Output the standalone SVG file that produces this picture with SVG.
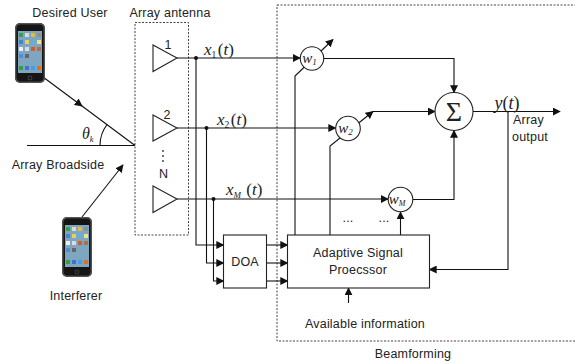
<svg xmlns="http://www.w3.org/2000/svg" width="575" height="364" viewBox="0 0 575 364">
<style>
.t{font-family:"Liberation Sans",Arial,sans-serif;font-size:12.5px;fill:#222;letter-spacing:0.2px}
.m{font-family:"Liberation Serif","Times New Roman",serif;font-style:italic;fill:#222}
.r{font-family:"Liberation Serif","Times New Roman",serif;fill:#222}
.ln{fill:none;stroke:#111;stroke-width:1.1}
.box{fill:#fff;stroke:#222;stroke-width:1.1}
.dash{fill:none;stroke:#444;stroke-width:1;stroke-dasharray:2,1.5}
</style>
<defs>
<marker id="ah" viewBox="0 0 10 10" refX="9" refY="5" markerWidth="8" markerHeight="8" markerUnits="userSpaceOnUse" orient="auto">
<path d="M0,0 L10,5 L0,10 z" fill="#111"/>
</marker>
<g id="phoneicon">
<rect x="0" y="0" width="30" height="60" rx="5" fill="#151515"/>
<rect x="0.8" y="0.8" width="28.4" height="58.4" rx="4.5" fill="none" stroke="#888" stroke-width="0.8"/>
<rect x="3" y="8" width="24" height="42" fill="#7ea6c0"/>
<g>
<rect x="4" y="10" width="4" height="4" fill="#3c9e3c"/><rect x="10" y="10" width="4" height="4" fill="#d9d9d9"/><rect x="16" y="10" width="4" height="4" fill="#e0c030"/><rect x="22" y="10" width="4" height="4" fill="#909090"/>
<rect x="4" y="17" width="4" height="4" fill="#4a80d0"/><rect x="10" y="17" width="4" height="4" fill="#e8d060"/><rect x="16" y="17" width="4" height="4" fill="#60b0e0"/><rect x="22" y="17" width="4" height="4" fill="#f0e090"/>
<rect x="4" y="24" width="4" height="4" fill="#eee"/><rect x="10" y="24" width="4" height="4" fill="#dcdcdc"/><rect x="16" y="24" width="4" height="4" fill="#d06020"/><rect x="22" y="24" width="4" height="4" fill="#b07040"/>
<rect x="4" y="31" width="4" height="4" fill="#5090d0"/><rect x="10" y="31" width="4" height="4" fill="#666"/>
<rect x="4" y="43" width="4" height="4" fill="#30a040"/><rect x="10" y="43" width="4" height="4" fill="#4070d0"/><rect x="16" y="43" width="4" height="4" fill="#40a0e0"/><rect x="22" y="43" width="4" height="4" fill="#e07020"/>
</g>
<circle cx="15" cy="55" r="2" fill="none" stroke="#555" stroke-width="0.7"/>
</g>
</defs>

<!-- dashed containers -->
<g id="array-antenna">
<rect class="dash" x="135" y="22.5" width="53.5" height="212.5"/>
<text class="t" x="170" y="17" text-anchor="middle">Array antenna</text>
<circle cx="163" cy="151" r="0.9" fill="#333"/>
<circle cx="163" cy="156" r="0.9" fill="#333"/>
<circle cx="163" cy="161" r="0.9" fill="#333"/>
<text class="t" x="163.5" y="178" text-anchor="middle">N</text>
</g>

<g id="beamforming">
<rect class="dash" x="277" y="5" width="310" height="336"/>
<text class="t" x="413" y="358" text-anchor="middle">Beamforming</text>
</g>

<g id="connectors">
<!-- incident paths -->
<path class="ln" d="M43,77 L82,106" marker-end="url(#ah)"/>
<path class="ln" d="M81,105.3 L135,145.5"/>
<path class="ln" d="M27,145.5 H135"/>
<path class="ln" d="M100,145.5 A35,35 0 0 1 107,124.5"/>
<path class="ln" d="M82,217 L123,165" marker-end="url(#ah)"/>
<!-- antenna outputs -->
<path class="ln" d="M177,58 H300" marker-end="url(#ah)"/>
<path class="ln" d="M177,128 H335.5" marker-end="url(#ah)"/>
<path class="ln" d="M177,199 H388" marker-end="url(#ah)"/>
<text class="m" x="204" y="55" font-size="17">x<tspan font-size="9.5" dy="3" font-style="normal">1</tspan><tspan dy="-3" font-style="normal" dx="1.5">(</tspan>t<tspan font-style="normal">)</tspan></text>
<text class="m" x="217" y="125" font-size="17">x<tspan font-size="9.5" dy="3" font-style="normal">2</tspan><tspan dy="-3" font-style="normal" dx="1.5">(</tspan>t<tspan font-style="normal">)</tspan></text>
<text class="m" x="226" y="195" font-size="17">x<tspan font-size="9" dy="3">M</tspan><tspan dy="-3" font-style="normal" dx="1"> (</tspan>t<tspan font-style="normal">)</tspan></text>
<circle cx="196" cy="58" r="2" fill="#111"/>
<circle cx="206.5" cy="128" r="2" fill="#111"/>
<circle cx="213.5" cy="199" r="2" fill="#111"/>
<path class="ln" d="M196,58 V245 H223.5" marker-end="url(#ah)"/>
<path class="ln" d="M206.5,128 V263 H223.5" marker-end="url(#ah)"/>
<path class="ln" d="M213.5,199 V281 H223.5" marker-end="url(#ah)"/>
<!-- DOA to ASP -->
<path class="ln" d="M266.5,245 H287.5" marker-end="url(#ah)"/>
<path class="ln" d="M266.5,263 H287.5" marker-end="url(#ah)"/>
<path class="ln" d="M266.5,281 H287.5" marker-end="url(#ah)"/>
<!-- weight controls -->
<path class="ln" d="M295,235 V76 L333,39.5" marker-end="url(#ah)"/>
<path class="ln" d="M330,235 V146 L373,111.5" marker-end="url(#ah)"/>
<path class="ln" d="M400.5,235 V212" marker-end="url(#ah)"/>
<text class="t" x="348" y="222" text-anchor="middle" letter-spacing="1">...</text>
<text class="t" x="384" y="222" text-anchor="middle" letter-spacing="1">...</text>
<!-- weights to sum -->
<path class="ln" d="M323.7,58.5 H454 V92.5" marker-end="url(#ah)"/>
<path class="ln" d="M373,111.5 H435" marker-end="url(#ah)"/>
<path class="ln" d="M412.8,199.5 H454 V130.5" marker-end="url(#ah)"/>
<!-- output and feedback -->
<path class="ln" d="M473,111.5 H560" marker-end="url(#ah)"/>
<path class="ln" d="M508,111.5 V269.5 H429.5" marker-end="url(#ah)"/>
<!-- available information -->
<path class="ln" d="M348.5,303 V288" marker-end="url(#ah)"/>
</g>

<g id="antenna-1"><path class="box" d="M153,45 L177,58 L153,71.5 Z"/><text class="t" x="168" y="49" text-anchor="middle">1</text></g>
<g id="antenna-2"><path class="box" d="M153,115 L177,128 L153,141 Z"/><text class="t" x="167" y="119" text-anchor="middle">2</text></g>
<g id="antenna-N"><path class="box" d="M153,186 L177,199 L153,212.5 Z"/></g>

<g id="desired-user">
<use href="#phoneicon" x="15" y="23"/>
<text class="t" x="70" y="17" text-anchor="middle">Desired User</text>
</g>

<g id="interferer">
<use href="#phoneicon" x="62" y="217"/>
<text class="t" x="76" y="300" text-anchor="middle">Interferer</text>
</g>

<g id="broadside">
<text class="t" x="58" y="169" text-anchor="middle">Array Broadside</text>
<text class="m" x="82" y="139" font-size="16">θ<tspan font-size="8.5" dy="3">k</tspan></text>
</g>

<g id="doa">
<rect class="box" x="223.5" y="235" width="43" height="53"/>
<text class="t" x="245" y="266" text-anchor="middle" letter-spacing="1">DOA</text>
</g>

<g id="asp">
<rect class="box" x="287.5" y="235" width="142" height="53"/>
<text class="t" x="358" y="257" text-anchor="middle">Adaptive Signal</text>
<text class="t" x="358" y="274" text-anchor="middle">Proecssor</text>
</g>

<g id="w1">
<circle class="box" cx="312" cy="58.5" r="11.7"/>
<text class="m" x="309.5" y="63" font-size="15" text-anchor="middle">w<tspan font-size="9" dy="2">1</tspan></text>
</g>
<g id="w2">
<circle class="box" cx="348" cy="128.5" r="12.3"/>
<text class="m" x="345.5" y="133" font-size="15" text-anchor="middle">w<tspan font-size="9" dy="2">2</tspan></text>
</g>
<g id="wM">
<circle class="box" cx="400.5" cy="199.5" r="12.3"/>
<text class="m" x="397" y="203.5" font-size="15" text-anchor="middle">w<tspan font-size="8" dy="2">M</tspan></text>
</g>

<g id="sum">
<circle class="box" cx="454" cy="111.5" r="19"/>
<text class="r" x="454" y="121" font-size="28" text-anchor="middle">Σ</text>
</g>

<g id="output">
<text class="m" x="507" y="109" font-size="18" text-anchor="middle">y<tspan font-style="normal">(</tspan>t<tspan font-style="normal">)</tspan></text>
<text class="t" x="513" y="124">Array</text>
<text class="t" x="512" y="141">output</text>
</g>

<g id="available-info">
<text class="t" x="365" y="328" text-anchor="middle" letter-spacing="0.5">Available information</text>
</g>
</svg>
